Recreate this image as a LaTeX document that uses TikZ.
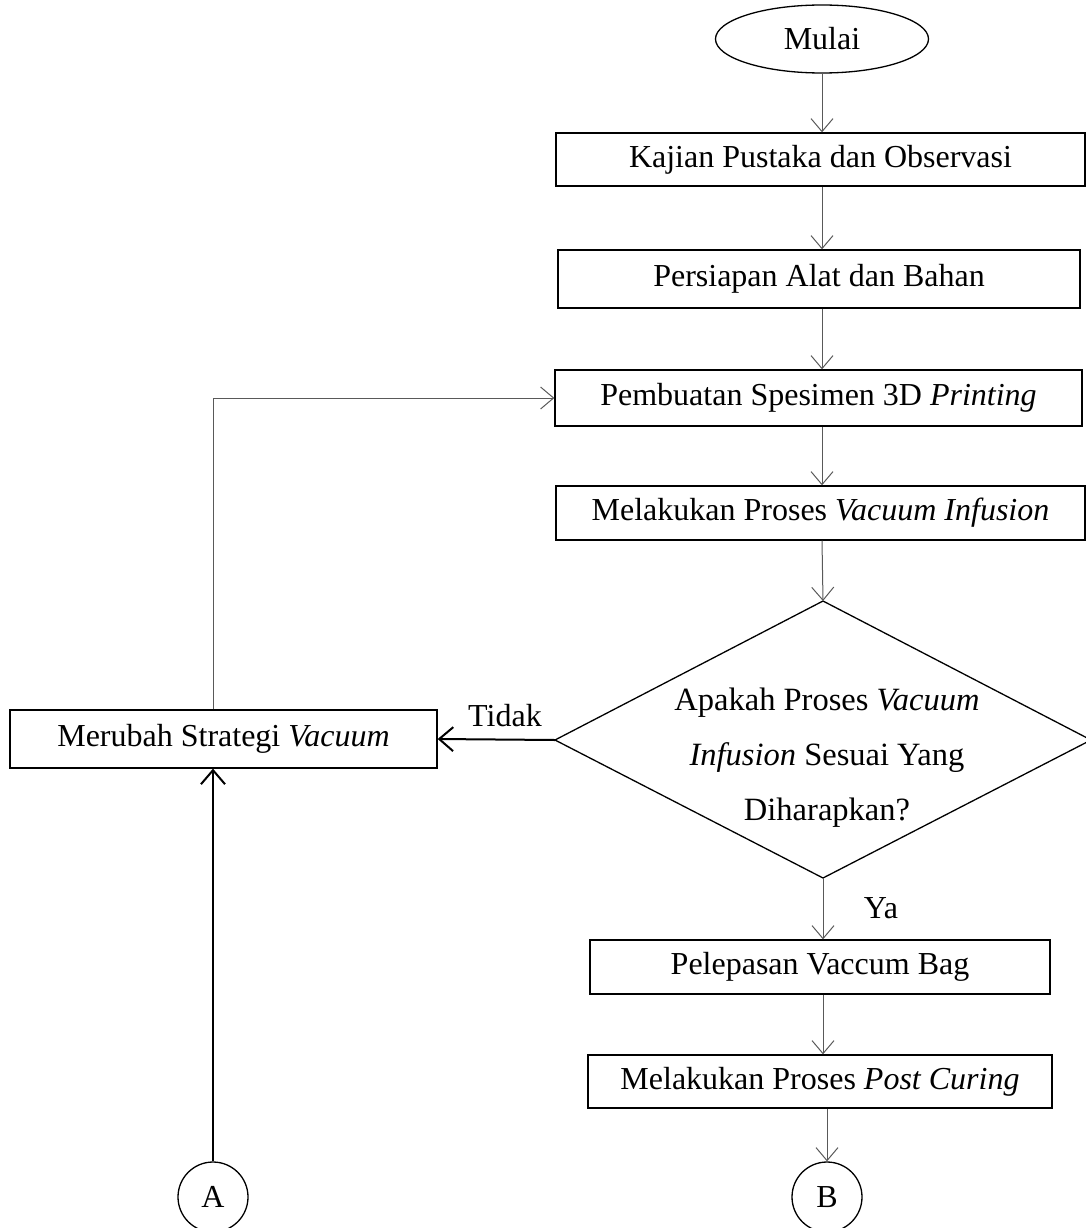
\documentclass[tikz,border=0pt]{standalone}
\usepackage{fontspec}
\setmainfont{Liberation Serif}
\usetikzlibrary{arrows.meta,shapes.geometric}
\begin{document}
\begin{tikzpicture}[x=1pt,y=-1pt,
 every node/.style={font=\fontsize{32}{38}\selectfont},
 proc/.style={draw, line width=1.3pt, inner sep=0pt},
 flow/.style={draw=black!65, line width=1pt, -{Straight Barb[length=13pt,width=22pt,line width=1pt]}},
 boldflow/.style={draw=black, line width=2pt, -{Straight Barb[length=14pt,width=24pt,line width=2pt]}},
 lbl/.style={inner sep=0pt}]
\useasboundingbox (0,0) rectangle (1086,1228);

\node[ellipse, draw, line width=1.3pt, minimum width=213pt, minimum height=68pt, inner sep=0pt] (mulai) at (822,39) {Mulai};
\node[proc, minimum width=529pt, minimum height=53pt] (kaj) at (820.5,159.5) {Kajian Pustaka dan Observasi};
\node[proc, minimum width=522pt, minimum height=58pt] (pers) at (819,279) {Persiapan Alat dan Bahan};
\node[proc, minimum width=527pt, minimum height=56pt] (pemb) at (818.5,398) {Pembuatan Spesimen 3D \textit{Printing}};
\node[proc, minimum width=529pt, minimum height=54pt] (vinf) at (820.5,513) {Melakukan Proses \textit{Vacuum Infusion}};

\coordinate (dt) at (823,601);
\coordinate (dl) at (555,740);
\coordinate (db) at (823,878);
\coordinate (dr) at (1091,740);
\draw[line width=1.3pt] (dt) -- (dr) -- (db) -- (dl) -- cycle;
\node[align=center, font=\fontsize{32.5}{55}\selectfont] (dq) at (827,758) {Apakah Proses \textit{Vacuum}\\\textit{Infusion} Sesuai Yang\\Diharapkan?};

\node[proc, minimum width=427pt, minimum height=58pt] (mer) at (223.5,739) {Merubah Strategi \textit{Vacuum}};
\node[proc, minimum width=460pt, minimum height=54pt] (pel) at (820,967) {Pelepasan Vaccum Bag};
\node[proc, minimum width=464pt, minimum height=53pt] (post) at (820,1081.5) {Melakukan Proses \textit{Post Curing}};

\node[circle, draw, line width=1.3pt, minimum size=70pt, inner sep=0pt] (ca) at (213,1197) {A};
\node[circle, draw, line width=1.3pt, minimum size=70pt, inner sep=0pt] (cb) at (827,1197) {B};

\node[lbl] (tidak) at (505,716) {Tidak};
\node[lbl] (ya) at (881,908) {Ya};

\draw[flow] (mulai.south) -- (mulai.south |- kaj.north);
\draw[flow] (mulai.south |- kaj.south) -- (mulai.south |- pers.north);
\draw[flow] (mulai.south |- pers.south) -- (mulai.south |- pemb.north);
\draw[flow] (mulai.south |- pemb.south) -- (mulai.south |- vinf.north);
\draw[flow] (mulai.south |- vinf.south) -- (dt);
\draw[boldflow] (dl) -- (mer.east);
\draw[flow] (ca.north |- mer.north) |- (pemb.west);
\draw[boldflow] (ca.north) -- (ca.north |- mer.south);
\draw[flow] (db) -- (db |- pel.north);
\draw[flow] (db |- pel.south) -- (db |- post.north);
\draw[flow] (cb.north |- post.south) -- (cb.north);
\end{tikzpicture}
\end{document}
